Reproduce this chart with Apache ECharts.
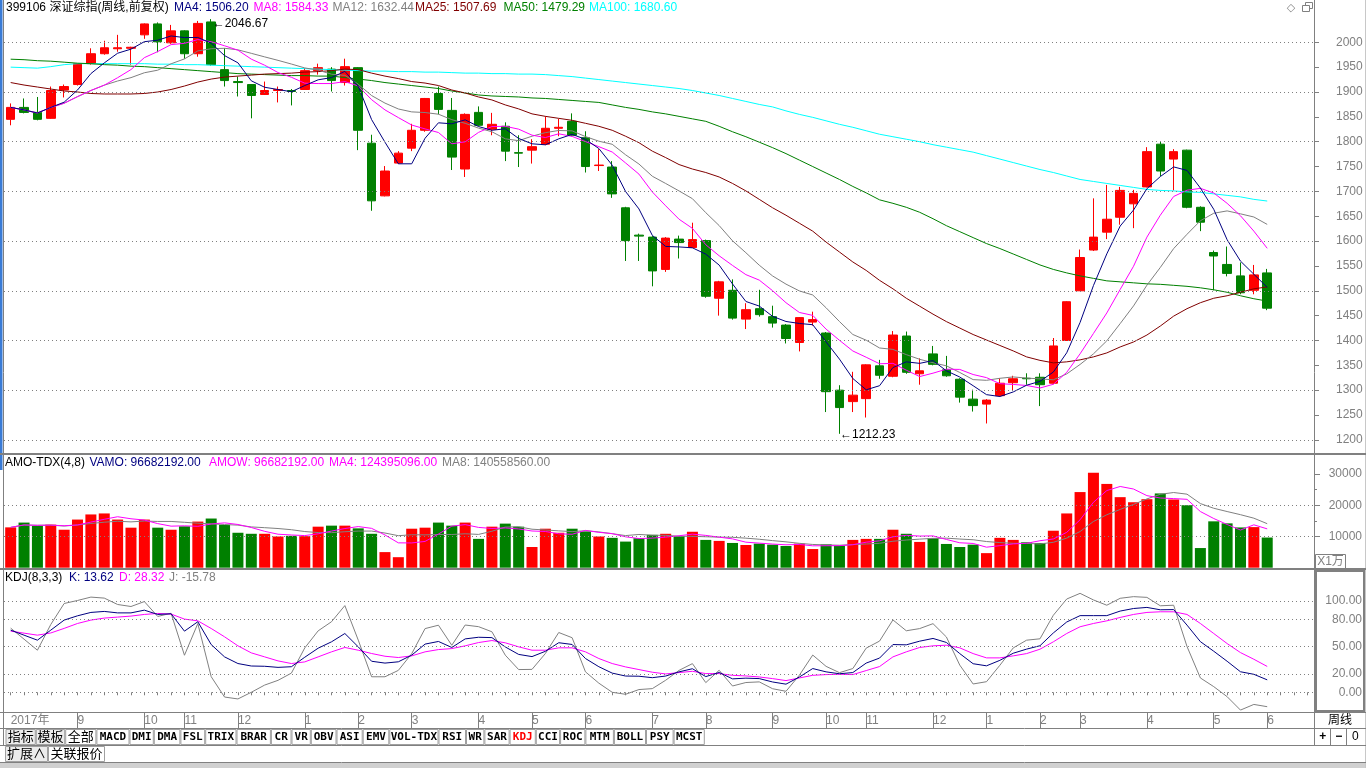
<!DOCTYPE html>
<html><head><meta charset="utf-8">
<script src="https://cdn.jsdelivr.net/npm/echarts@6/dist/echarts.min.js"></script>
<style>html,body{margin:0;padding:0;background:#fff;overflow:hidden}#c{width:1366px;height:768px}</style>
</head><body><div id="c"></div><script>
// ---------------- data ----------------
const monthLabels = [[0,'2017年'],[5,'9'],[10,'10'],[13,'11'],[17,'12'],[22,'1'],[26,'2'],[30,'3'],[35,'4'],[39,'5'],[43,'6'],[48,'7'],[52,'8'],[57,'9'],[61,'10'],[64,'11'],[69,'12'],[73,'1'],[77,'2'],[80,'3'],[85,'4'],[90,'5'],[94,'6']];
const slotCount = 98; // 95 weeks + 3 empty slots on the right
const open = [1845,1869,1859,1847,1904,1915,1957,1977,1987,1988,
 2015,2037,1999,2023,1977,2041,1945,1921,1915,1895,
 1903,1903,1905,1943,1946,1919,1949,1797,1691,1757,
 1787,1823,1897,1863,1745,1859,1825,1831,1778,1783,
 1795,1827,1841,1808,1752,1749,1667,1612,1608,1543,
 1604,1587,1601,1485,1501,1443,1464,1448,1431,1396,
 1437,1415,1300,1277,1283,1349,1328,1409,1333,1373,
 1341,1322,1282,1272,1289,1315,1324,1326,1314,1400,
 1500,1582,1618,1648,1675,1709,1795,1765,1783,1668,
 1577,1553,1530,1501,1536];
const close = [1869,1859,1845,1903,1911,1957,1977,1989,1989,1990,
 2037,2001,2023,1977,2038,1955,1923,1919,1893,1903,
 1905,1901,1943,1949,1923,1951,1823,1681,1741,1777,
 1823,1887,1865,1769,1855,1833,1835,1781,1777,1790,
 1827,1829,1813,1750,1753,1695,1601,1610,1540,1606,
 1597,1603,1489,1518,1445,1462,1452,1435,1404,1446,
 1442,1297,1265,1290,1351,1330,1411,1336,1339,1352,
 1329,1286,1269,1280,1314,1323,1323,1311,1389,1478,
 1567,1608,1644,1702,1696,1780,1741,1780,1668,1638,
 1570,1535,1496,1532,1465];
const low = [1833,1857,1843,1846,1889,1913,1955,1975,1981,1955,
 2007,1980,1997,1967,1971,1953,1911,1891,1847,1894,
 1879,1873,1904,1935,1901,1913,1783,1661,1690,1755,
 1781,1820,1855,1743,1729,1831,1813,1761,1749,1756,
 1793,1811,1811,1738,1741,1687,1560,1560,1509,1538,
 1565,1586,1486,1450,1442,1423,1448,1426,1394,1378,
 1430,1256,1212.23,1256,1245,1323,1326,1333,1311,1350,
 1327,1275,1257,1233,1287,1299,1311,1268,1312,1400,
 1500,1580,1604,1633,1626,1708,1731,1702,1666,1620,
 1501,1529,1493,1493,1461];
const high = [1877,1887,1890,1911,1915,1958,1988,2003,2015,1991,
 2038,2040,2035,2024,2043,2046.67,1988,1931,1916,1921,
 1911,1906,1948,1957,1950,1967,1950,1814,1751,1781,
 1836,1888,1911,1888,1857,1871,1858,1839,1813,1805,
 1851,1846,1857,1821,1785,1761,1669,1615,1610,1608,
 1611,1637,1603,1520,1523,1475,1502,1470,1433,1447,
 1458,1417,1310,1337,1352,1361,1419,1418,1364,1389,
 1369,1324,1301,1282,1324,1329,1334,1334,1405,1479,
 1583,1686,1713,1709,1703,1789,1801,1785,1784,1670,
 1581,1589,1557,1552,1544];
const ma25 = [1919,1914,1910,1906,1902,1900,1897,1896,1896,1896,1897,
 1900,1905,1912,1920,1926,1930,1932,1934,1936,1937,
 1938,1940,1941,
 1943,1946,1945,1938,1932,1927,1921,1918,1913,1904,1898,
 1890,1884,1874,1866,1856,1851,1847,1843,1837,1831,1823,1811,1798,
 1781,1768,1754,1745,1738,1729,1716,1701,1684,1667,1652,1636,1620,
 1598,1578,1558,1541,1521,1504,1485,1469,1453,1438,1425,1412,1401,
 1390,1379,1367,1360,1355,1357,1361,1367,1375,1387,1397,1411,1429,
 1449,1464,1476,1485,1490,1497,1504,1507.69];
const ma50 = [1966,1965,1963,1962,1960,1958,1957,1955,1954,1952,1951,
 1949,1947,1945,1943,1941,1939,1937,1936,1935,1934,
 1933,1933,1932,1932,1929,1926,1923,1919,1916,1913,
 1910,1907,1902,1898,1894,1892,1891,1890,1888,1887,
 1885,1883,1881,1879,1874,1869,1865,1860,1856,1851,
 1846,1841,1831,1820,1810,1799,1788,1776,1763,1750,
 1737,1724,1710,1697,1683,1676,1668,1658,1645,1631,
 1619,1607,1595,1585,1574,1563,1552,1543,1536,1530,
 1525,1520,1518,1516,1514,1513,1511,1509,1506,1502,
 1497,1490,1484,1479.29];
const ma100 = [1950,1949,1948,1951,1955,1957,1957,1957,1957,1957,1957,
 1956,1956,1955,1955,1954,1953,1952,1951,1950,1949,
 1948,1947,1946,1945,1944,1943,1942,1942,1941,1941,
 1940,1940,1939,1938,1938,1937,1937,1936,1936,1935,
 1933,1931,1928,1925,1922,1919,1916,1913,1910,1907,
 1903,1898,1893,1887,1881,1875,1870,1862,1855,1849,
 1842,1835,1829,1822,1815,1810,1805,1800,1794,1789,
 1784,1779,1772,1765,1758,1751,1744,1738,1731,1724,
 1720,1716,1712,1708,1704,1702,1701,1699,1698,1695,
 1692,1689,1684,1680.60];
const amount = [12930,14460,13370,13800,12170,15430,17070,17390,15430,12830,
 15430,12830,12170,13260,14780,15760,13700,11200,10870,10870,
 10000,10220,10110,13150,13480,13480,12610,10870,5000,3370,
 12500,12830,14460,13480,14460,9240,13150,14130,13150,6630,
 12500,11200,12500,11630,10000,9570,8370,9460,10540,10870,
 10110,11520,8910,8590,7930,7280,7720,7390,6960,7720,
 5980,7500,7070,8910,9240,9240,12170,10870,8260,9460,
 7610,6630,7390,4670,9570,8910,8150,7930,11850,17390,
 24240,30430,26850,22610,20980,21960,23800,21870,20030,6300,
 14860,14210,12900,13010,9668];
const kLine = [68.1,62.6,57.1,68.1,79.1,83.8,87.5,88.6,87,87,
 90,85.3,86,67,77.3,52.3,38.8,31.5,28.8,28.5,
 27.3,28,38.4,48.3,55.3,64.4,49.8,34,32,33.4,
 40.7,52.8,55.7,49.1,58.5,60.3,59.9,49.7,41.5,39.1,
 44.9,54.3,52.4,37,28,21,17.8,17.6,16,17.8,
 22.4,25.8,17.2,21.7,14.7,15.5,15,11.3,8.9,16.7,
 26,22.4,20.3,21.6,32,37.5,52.3,52,56,59,
 54.6,42.4,31.3,29,35,42.8,47.3,51,65,77,
 84,84,84,89,91.8,93,90.4,90.6,73.6,55.5,
 45,34,22.5,19.7,13.62];
const dLine = [67,64.8,62.6,65,70,75.4,79.1,81.3,82.4,83.5,
 85.3,86.4,85.7,80.2,78.3,69.9,60.8,50.9,43.2,38.8,
 34.4,31.5,33.3,38.8,44.3,49.1,46.1,42.5,39.5,38.1,
 39.9,44.3,46.8,47.9,50.9,54.5,56.7,54.2,49.8,46.1,
 46.1,48.7,48.7,44.3,37,31.5,27.8,24.9,22,20.1,
 21.6,23,20.5,20.5,18.6,17.9,16.8,15,12.8,15.7,
 18.6,19.4,19.7,19.4,23.8,28.2,38.8,44.3,49.1,50.9,
 51.6,48.7,42.4,37.7,37.7,39.9,42.4,47.2,55.3,64.4,
 71.8,75.4,78.3,82,85.3,87.5,88.2,88.2,85.3,75.4,
 64.4,53.4,43.5,36.2,28.32];
const priceTicks = [1200,1250,1300,1350,1400,1450,1500,1550,1600,1650,1700,1750,1800,1850,1900,1950,2000];
const priceGridLines = [1200,1300,1400,1500,1600,1700,1800,1900,2000];
const amountTicks = [10000,20000,30000];
const amountMinorTicks = [15000,25000];
const amountGridLines = [10000,20000];
const kdjTicks = [0,20,50,80,100];
const mainLegend = [['399106 深证综指(周线,前复权)','#000000'],['MA4: 1506.20','#000080'],['MA8: 1584.33','#ff00ff'],['MA12: 1632.44','#808080'],['MA25: 1507.69','#800000'],['MA50: 1479.29','#008000'],['MA100: 1680.60','#00ffff']];
const amoLegend = [['AMO-TDX(4,8)','#000000'],['VAMO: 96682192.00','#000080'],['AMOW: 96682192.00','#ff00ff'],['MA4: 124395096.00','#ff00ff'],['MA8: 140558560.00','#808080']];
const kdjLegend = [['KDJ(8,3,3)','#000000'],['K: 13.62','#000080'],['D: 28.32','#ff00ff'],['J: -15.78','#808080']];
const tabLabels = ['指标','模板','全部','MACD','DMI','DMA','FSL','TRIX','BRAR','CR','VR','OBV','ASI','EMV','VOL-TDX','RSI','WR','SAR','KDJ','CCI','ROC','MTM','BOLL','PSY','MCST'];
const tabEdges = [5.5,35.8,65.2,96.4,129.5,153.8,180.4,205.2,236.5,270.9,291.5,310.8,336.5,362.7,389.3,438.5,466,484.4,509.6,535.8,560.1,585.4,613.9,646,673.6,704.8];

// ---------------- derived ----------------
const RED = '#ff0000', GREEN = '#008000', GRAY = '#808080';
const FONT = "'Liberation Sans', Arial, 'Noto Sans CJK SC', sans-serif";
const slots = Array.from({length: slotCount}, (_, i) => 'w' + i);
const monthText = Array.from({length: slotCount}, () => '');
monthLabels.forEach(([i, t]) => { monthText[i] = t; });
function movingAvg(arr, n) {
  return arr.map((_, i) => { const s = Math.max(0, i - n + 1); let sum = 0; for (let j = s; j <= i; j++) sum += arr[j]; return +(sum / (i - s + 1)).toFixed(2); });
}
const jLine = kLine.map((k, i) => +(3 * k - 2 * dLine[i]).toFixed(2));
const candleData = open.map((o, i) => [o, close[i], low[i], high[i]]);
const hiIdx = high.indexOf(Math.max(...high));
const loIdx = low.indexOf(Math.min(...low));

const dotted = (vals) => ({ silent: true, symbol: ['none','none'], animation: false, label: {show: false},
  lineStyle: {color: GRAY, type: [1, 3], width: 1}, emphasis: {disabled: true}, data: vals.map(v => ({yAxis: v})) });
const lineSeries = (data, color, xi, yi) => ({ type: 'line', data, xAxisIndex: xi, yAxisIndex: yi, symbol: 'none', showSymbol: false,
  lineStyle: {color, width: 1}, itemStyle: {color}, silent: true, animation: false, z: 3 });

// ---------------- frame graphics ----------------
const g = [];
const L = (x1, y1, x2, y2, c, w) => g.push({type: 'line', silent: true, z: 50, shape: {x1, y1, x2, y2}, style: {stroke: c || GRAY, lineWidth: w || 1}});
const R = (x, y, w, h, stroke, fill, lw) => g.push({type: 'rect', silent: true, z: 49, shape: {x, y, width: w, height: h}, style: {stroke: stroke || 'none', fill: fill || 'none', lineWidth: lw || 1}});
const T = (x, y, t, c, font, align) => g.push({type: 'text', silent: true, z: 60, x, y, style: {text: t, fill: c || '#000', font: font || ('12px ' + FONT), align: align || 'left', verticalAlign: 'middle', textAlign: align || 'left', textVerticalAlign: 'middle'}});

R(0, 0, 2.5, 470, 'none', '#3a7bd5');
L(3.5, 0, 3.5, 745, GRAY);
L(1314.5, 0, 1314.5, 745, GRAY);
L(1365.5, 0, 1365.5, 768, '#c8c8c8');
L(0, 454, 1366, 454, GRAY, 2);
L(0, 569, 1366, 569, GRAY, 2);
L(0, 712.5, 1366, 712.5, GRAY);
L(0, 728.5, 1366, 728.5, GRAY);
L(0, 745.5, 1366, 745.5, GRAY);
L(0, 762.5, 1366, 762.5, GRAY);
R(0, 763, 1366, 5, 'none', '#d0d0d0');
R(1316, 571, 48, 140, GRAY, 'none', 2);
R(1315.5, 554.5, 30, 14, GRAY, '#fff', 1);
T(1330.5, 562, 'X1万', GRAY, '12px ' + FONT, 'center');
T(1291, 8, '◇', GRAY, '11px DejaVu Sans', 'center');
R(1305.5, 2.5, 7, 6, GRAY, '#fff', 1);
R(1302.5, 5.5, 7, 6, GRAY, '#fff', 1);
const legendX = {main: [6, 174, 253.6, 332.6, 415, 503.6, 589], amo: [5, 89.5, 209, 329, 442], kdj: [5, 69, 119, 169]};
mainLegend.forEach(([t, c], i) => T(legendX.main[i], 8, t, c));
amoLegend.forEach(([t, c], i) => T(legendX.amo[i], 462.5, t, c));
kdjLegend.forEach(([t, c], i) => T(legendX.kdj[i], 577.5, t, c));
T(1340, 720.5, '周线', '#000', '12px ' + FONT, 'center');
L(1330.5, 729, 1330.5, 745, GRAY); L(1346.5, 729, 1346.5, 745, GRAY);
T(1322.7, 737, '+', '#000', 'bold 12px ' + FONT, 'center');
T(1338.7, 737, '−', '#000', 'bold 12px ' + FONT, 'center');
T(1355.3, 737, '0', '#000', '12px ' + FONT, 'center');
tabLabels.forEach((t, i) => {
  const x0 = tabEdges[i], x1 = tabEdges[i + 1];
  R(x0 + 0.5, 729.5, x1 - x0 - 1, 15, '#a0a0a0', i < 2 ? '#ececec' : '#ffffff', 1);
  const cjk = /[\u4e00-\u9fff]/.test(t);
  T((x0 + x1) / 2, 737.5, t, t === 'KDJ' ? RED : '#000', cjk ? ('13px ' + FONT) : "bold 11px 'DejaVu Sans Mono', monospace", 'center');
});
R(5.5, 746.5, 42, 15, '#a0a0a0', '#ececec', 1);
T(26.5, 754.5, '扩展∧', '#000', '13px ' + FONT, 'center');
R(48.5, 746.5, 56, 15, '#a0a0a0', '#ffffff', 1);
T(76.5, 754.5, '关联报价', '#000', '13px ' + FONT, 'center');

// ---------------- chart ----------------
const chart = echarts.init(document.getElementById('c'), null, {renderer: 'canvas'});
const hiddenX = (gi) => ({type: 'category', gridIndex: gi, data: slots, boundaryGap: true, show: false});
const plain = (v) => String(v);
chart.setOption({
  animation: false,
  backgroundColor: '#ffffff',
  textStyle: {fontFamily: FONT},
  grid: [
    {left: 4, right: 52, top: 18, height: 435},
    {left: 4, right: 52, top: 456, height: 111.7},
    {left: 4, right: 52, top: 571, height: 141}
  ],
  xAxis: [
    hiddenX(0), hiddenX(1),
    {type: 'category', gridIndex: 2, data: slots, boundaryGap: true, position: 'bottom',
     axisLine: {show: false},
     axisTick: {show: true, alignWithLabel: true, interval: 0, length: 3, lineStyle: {color: GRAY}},
     axisLabel: {show: true, interval: (i) => monthText[i] !== '', formatter: (v, i) => monthText[i], align: 'left', margin: 3,
                 color: GRAY, fontSize: 12, fontFamily: FONT}},
    {type: 'category', gridIndex: 2, data: slots, boundaryGap: true, position: 'bottom',
     axisLine: {show: false}, axisLabel: {show: false},
     axisTick: {show: true, alignWithLabel: true, interval: (i) => i > 0 && monthText[i] !== '', length: 16, lineStyle: {color: GRAY}}}
  ],
  yAxis: [
    {type: 'value', gridIndex: 0, position: 'right', min: 1173.6, max: 2048.9, splitLine: {show: false},
     axisLine: {show: false},
     axisTick: {show: true, customValues: priceTicks, length: 5, lineStyle: {color: GRAY}},
     axisLabel: {customValues: priceTicks, formatter: plain, margin: 22, color: GRAY, fontSize: 12, fontFamily: FONT}},
    {type: 'value', gridIndex: 1, position: 'right', min: 0, max: 35800, splitLine: {show: false},
     axisLine: {show: false},
     axisTick: {show: true, customValues: amountTicks, length: 6, lineStyle: {color: GRAY}},
     axisLabel: {customValues: amountTicks, formatter: plain, align: 'right', margin: 48, color: GRAY, fontSize: 12, fontFamily: FONT}},
    {type: 'value', gridIndex: 1, position: 'right', min: 0, max: 35800, splitLine: {show: false},
     axisLine: {show: false}, axisLabel: {show: false},
     axisTick: {show: true, customValues: amountMinorTicks, length: 3, lineStyle: {color: GRAY}}},
    {type: 'value', gridIndex: 2, position: 'right', min: -21.6, max: 132.9, splitLine: {show: false},
     axisLine: {show: false}, axisTick: {show: false},
     axisLabel: {customValues: kdjTicks, align: 'right', margin: 48, color: GRAY, fontSize: 12, fontFamily: FONT, formatter: (v) => Number(v).toFixed(2)}}
  ],
  series: [
    {type: 'candlestick', xAxisIndex: 0, yAxisIndex: 0, data: candleData, barWidth: 9, silent: true, z: 2,
     itemStyle: {color: RED, color0: GREEN, borderColor: RED, borderColor0: GREEN, borderWidth: 1},
     markLine: dotted(priceGridLines),
     markPoint: {symbol: 'circle', symbolSize: 1, silent: true, animation: false, itemStyle: {color: 'rgba(0,0,0,0)'},
       label: {show: true, position: 'right', distance: 0, color: '#000', fontSize: 12, fontFamily: FONT, formatter: (p) => '←' + Number(p.value).toFixed(2)},
       data: [{coord: [hiIdx, high[hiIdx]], value: high[hiIdx], label: {offset: [1, 5]}}, {coord: [loIdx, low[loIdx]], value: low[loIdx], label: {offset: [0, 1]}}]}},
    lineSeries(ma100, '#00ffff', 0, 0),
    lineSeries(ma50, GREEN, 0, 0),
    lineSeries(ma25, '#800000', 0, 0),
    lineSeries(movingAvg(close, 12), GRAY, 0, 0),
    lineSeries(movingAvg(close, 8), '#ff00ff', 0, 0),
    lineSeries(movingAvg(close, 4), '#000080', 0, 0),
    {type: 'bar', xAxisIndex: 1, yAxisIndex: 1, barWidth: 11, silent: true, z: 2,
     data: amount.map((v, i) => ({value: v, itemStyle: {color: close[i] > open[i] ? RED : GREEN}})),
     markLine: dotted(amountGridLines)},
    lineSeries(movingAvg(amount, 8), GRAY, 1, 1),
    lineSeries(movingAvg(amount, 4), '#ff00ff', 1, 1),
    {type: 'line', xAxisIndex: 2, yAxisIndex: 3, data: [], markLine: dotted(kdjTicks), silent: true},
    lineSeries(jLine, GRAY, 2, 3),
    lineSeries(dLine, '#ff00ff', 2, 3),
    lineSeries(kLine, '#000080', 2, 3)
  ],
  graphic: {elements: g}
});
</script></body></html>
